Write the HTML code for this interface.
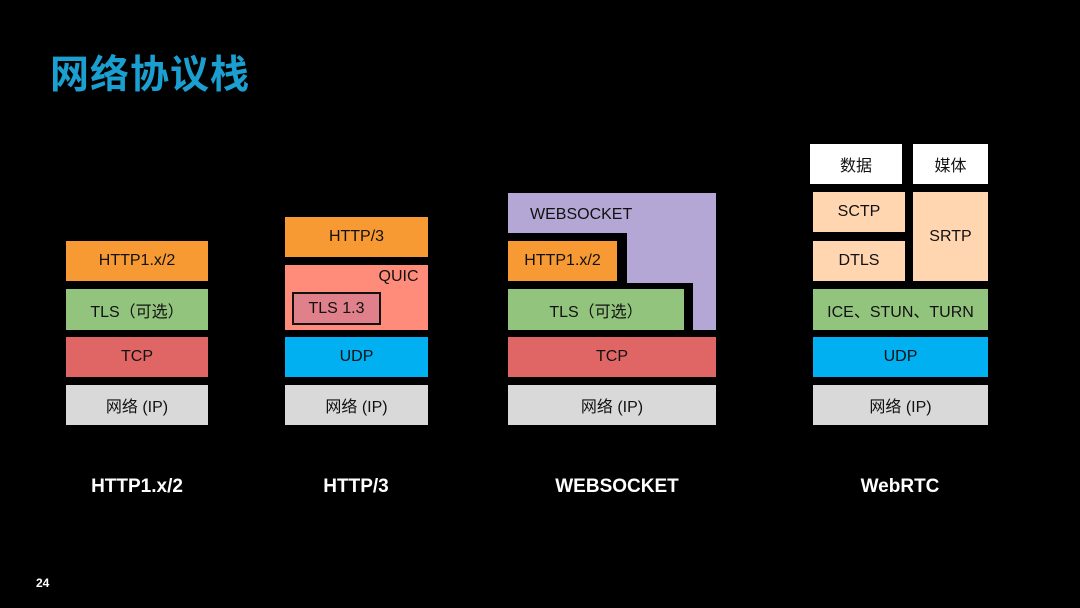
<!DOCTYPE html>
<html><head><meta charset="utf-8"><style>
html,body{margin:0;padding:0;background:#000;}
#c{position:relative;width:1080px;height:608px;background:#000;overflow:hidden;font-family:"Liberation Sans","Noto Sans CJK SC",sans-serif;}
.b{position:absolute;display:flex;align-items:center;justify-content:center;font-size:16px;color:#111;box-sizing:border-box;}
.o{background:#f79a34}.g{background:#93c47d}.r{background:#e06666}.gr{background:#d9d9d9}.u{background:#00b0f0}.pk{background:#ffd6b0}.w{background:#fff}
.l{position:absolute;color:#fff;font-weight:bold;font-size:19px;text-align:center;width:200px;top:476px;}
</style></head><body><div id="c">
<div style="position:absolute;left:50px;top:44px;font-size:39px;color:#1a9fd0;font-weight:bold;font-family:'Noto Sans CJK SC',sans-serif;letter-spacing:1px;">网络协议栈</div>

<!-- HTTP1 -->
<div class="b o" style="left:66px;top:241px;width:142px;height:40px">HTTP1.x/2</div>
<div class="b g" style="left:66px;top:289px;width:142px;height:41px">TLS（可选）</div>
<div class="b r" style="left:66px;top:337px;width:142px;height:40px">TCP</div>
<div class="b gr" style="left:66px;top:385px;width:142px;height:40px">网络 (IP)</div>
<div class="l" style="left:37px">HTTP1.x/2</div>

<!-- HTTP3 -->
<div class="b o" style="left:285px;top:217px;width:143px;height:40px">HTTP/3</div>
<div class="b" style="left:285px;top:265px;width:143px;height:65px;background:#ff8c7a"></div>
<div class="b" style="left:376px;top:267px;width:45px;height:20px">QUIC</div>
<div class="b" style="left:292px;top:292px;width:89px;height:33px;background:#e0808a;border:2px solid #111">TLS 1.3</div>
<div class="b u" style="left:285px;top:337px;width:143px;height:40px">UDP</div>
<div class="b gr" style="left:285px;top:385px;width:143px;height:40px">网络 (IP)</div>
<div class="l" style="left:256px">HTTP/3</div>

<!-- WEBSOCKET -->
<div class="b" style="left:508px;top:193px;width:208px;height:137px;background:#b4a7d6"></div>
<div class="b" style="left:500px;top:233px;width:127px;height:60px;background:#000"></div>
<div class="b" style="left:500px;top:283px;width:193px;height:50px;background:#000"></div>
<div class="b" style="left:530px;top:205px;width:80px;height:20px;justify-content:flex-start">WEBSOCKET</div>
<div class="b o" style="left:508px;top:241px;width:109px;height:40px">HTTP1.x/2</div>
<div class="b g" style="left:508px;top:289px;width:176px;height:41px">TLS（可选）</div>
<div class="b r" style="left:508px;top:337px;width:208px;height:40px">TCP</div>
<div class="b gr" style="left:508px;top:385px;width:208px;height:40px">网络 (IP)</div>
<div class="l" style="left:517px">WEBSOCKET</div>

<!-- WebRTC -->
<div class="b w" style="left:810px;top:144px;width:92px;height:40px">数据</div>
<div class="b w" style="left:913px;top:144px;width:75px;height:40px">媒体</div>
<div class="b pk" style="left:813px;top:192px;width:92px;height:40px">SCTP</div>
<div class="b pk" style="left:813px;top:241px;width:92px;height:40px">DTLS</div>
<div class="b pk" style="left:913px;top:192px;width:75px;height:89px">SRTP</div>
<div class="b g" style="left:813px;top:289px;width:175px;height:41px">ICE、STUN、TURN</div>
<div class="b u" style="left:813px;top:337px;width:175px;height:40px">UDP</div>
<div class="b gr" style="left:813px;top:385px;width:175px;height:40px">网络 (IP)</div>
<div class="l" style="left:800px">WebRTC</div>

<div style="position:absolute;left:36px;top:576px;color:#fff;font-size:12px;font-weight:bold">24</div>
</div></body></html>
